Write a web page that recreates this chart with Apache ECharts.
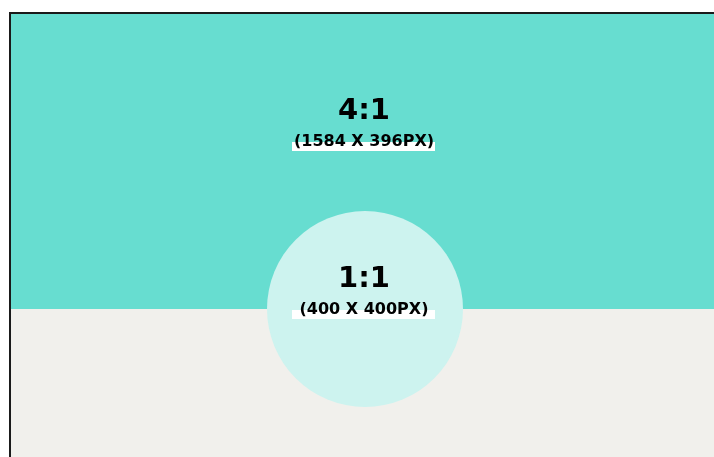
<!DOCTYPE html>
<html>
<head>
<meta charset="utf-8">
<script src="https://cdn.jsdelivr.net/npm/echarts@6/dist/echarts.min.js"></script>
<style>
  html, body { margin: 0; padding: 0; background: #fff; }
  #main { width: 714px; height: 457px; }
</style>
</head>
<body>
<div id="main"></div>
<script>
// 比例示意：横幅 4:1 与头像 1:1
var ratios = ['4:1', '1:1'];
var sizes = ['(1584 X 396PX)', '(400 X 400PX)'];

var chart = echarts.init(document.getElementById('main'));

function label(cx, y, title, sub) {
	return [{
		type: 'text',
		x: cx, y: y,
		style: {
			text: title,
			align: 'center', verticalAlign: 'middle',
			font: 'bold 29px "DejaVu Sans", sans-serif',
			fill: '#000'
		}
	}, {
		type: 'rect',
		shape: { x: cx - 72, y: y + 31, width: 143, height: 9 },
		style: { fill: '#fff' }
	}, {
		type: 'text',
		x: cx, y: y + 31,
		style: {
			text: sub,
			align: 'center', verticalAlign: 'middle',
			font: 'bold 16px "DejaVu Sans", sans-serif',
			fill: '#000'
		}
	}];
}

var elems = [
	// frame
	{ type: 'rect', shape: { x: 9, y: 12, width: 705, height: 445 }, style: { fill: '#1a1a1a' } },
	{ type: 'rect', shape: { x: 11, y: 14, width: 703, height: 295 }, style: { fill: '#67ddd0' } },
	{ type: 'rect', shape: { x: 11, y: 309, width: 703, height: 148 }, style: { fill: '#f1f0ec' } },
	{ type: 'circle', shape: { cx: 365, cy: 309, r: 98 }, style: { fill: '#cdf3ef' } }
];
elems = elems.concat(label(364, 111, ratios[0], sizes[0]));
elems = elems.concat(label(364, 279, ratios[1], sizes[1]));

chart.setOption({
	backgroundColor: '#fff',
	animation: false,
	graphic: { elements: elems }
});
</script>
</body>
</html>
